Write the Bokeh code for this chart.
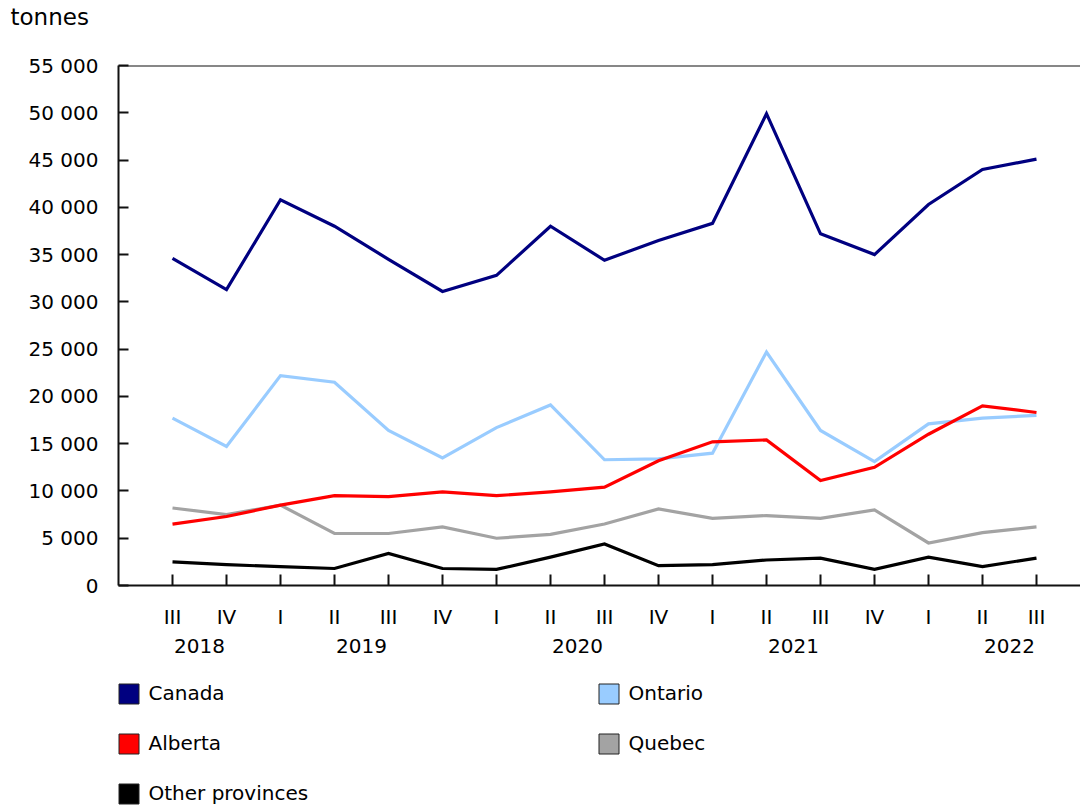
from bokeh.plotting import figure
from bokeh.models import (Range1d, FixedTicker, LinearAxis, Span, Legend, LegendItem)
from bokeh.layouts import column
from bokeh.embed import file_html
from bokeh.resources import INLINE

# ---------------- data ----------------
quarters = ["III", "IV", "I", "II", "III", "IV", "I", "II", "III", "IV",
            "I", "II", "III", "IV", "I", "II", "III"]
years = ["2018", "2019", "2020", "2021", "2022"]
canada = [34600, 31300, 40800, 38000, 34500, 31100, 32800, 38000, 34400, 36500,
          38300, 49900, 37200, 35000, 40300, 44000, 45100]
ontario = [17700, 14700, 22200, 21500, 16400, 13500, 16700, 19100, 13300, 13400,
           14000, 24700, 16400, 13100, 17100, 17700, 18000]
alberta = [6500, 7300, 8500, 9500, 9400, 9900, 9500, 9900, 10400, 13200,
           15200, 15400, 11100, 12500, 16000, 19000, 18300]
quebec = [8200, 7500, 8500, 5500, 5500, 6200, 5000, 5400, 6500, 8100,
          7100, 7400, 7100, 8000, 4500, 5600, 6200]
other = [2500, 2200, 2000, 1800, 3400, 1800, 1700, 3000, 4400, 2100,
         2200, 2700, 2900, 1700, 3000, 2000, 2900]
series_names = ["Canada", "Ontario", "Alberta", "Quebec", "Other provinces"]
series_values = [canada, ontario, alberta, quebec, other]
series_colors = ["#000080", "#99CCFF", "#FF0000", "#A3A3A3", "#000000"]
y_ticks = [0, 5000, 10000, 15000, 20000, 25000, 30000, 35000, 40000, 45000, 50000, 55000]
y_tick_labels = ["0", "5 000", "10 000", "15 000", "20 000", "25 000", "30 000",
                 "35 000", "40 000", "45 000", "50 000", "55 000"]
unit_label = "tonnes"

# ---------------- layout ----------------
FONT = "DejaVu Sans"
FS = "20px"
W = 1080
H_MAIN, H_LEG = 664, 142
x_pos = list(range(1, len(quarters) + 1))
year_pos = [1.5, 4.5, 8.5, 12.5, 16.5]

p = figure(width=W, height=H_MAIN, output_backend="svg", toolbar_location=None,
           x_range=Range1d(0, 17.815), y_range=Range1d(0, 55000),
           min_border_left=118, min_border_right=0, min_border_top=65,
           min_border_bottom=79, x_axis_type=None, y_axis_type=None)
p.grid.visible = False
p.outline_line_color = None
p.background_fill_color = "white"
p.border_fill_color = "white"

# unit label as title, with trailing empty lines to lift it to the top edge
p.title.text = unit_label + "\n\n"
p.title.text_font = FONT
p.title.text_font_size = "23px"
p.title.text_font_style = "normal"
p.title.text_color = "#000000"
p.title.text_line_height = 0.65
p.title.align = "left"
p.title.offset = -108
p.title.standoff = 3

# y axis
yax = LinearAxis(ticker=FixedTicker(ticks=y_ticks),
                 major_label_overrides={t: l for t, l in zip(y_ticks, y_tick_labels)})
yax.major_tick_in = 10
yax.major_tick_out = 0
yax.minor_tick_line_color = None
yax.major_label_standoff = 20
yax.major_label_text_font = FONT
yax.major_label_text_font_size = FS
yax.major_label_text_color = "#000000"
yax.axis_line_color = "#111111"
yax.axis_line_width = 2
yax.major_tick_line_color = "#111111"
yax.major_tick_line_width = 2
p.add_layout(yax, "left")

# x axis - quarters
xax = LinearAxis(ticker=FixedTicker(ticks=x_pos),
                 major_label_overrides={i: q for i, q in zip(x_pos, quarters)})
xax.major_tick_in = 11
xax.major_tick_out = 0
xax.minor_tick_line_color = None
xax.major_label_standoff = 19
xax.major_label_text_font = FONT
xax.major_label_text_font_size = FS
xax.major_label_text_color = "#000000"
xax.axis_line_color = "#111111"
xax.axis_line_width = 2
xax.major_tick_line_color = "#111111"
xax.major_tick_line_width = 2
p.add_layout(xax, "below")

# x axis - years
yrax = LinearAxis(ticker=FixedTicker(ticks=year_pos),
                  major_label_overrides={pos: y for pos, y in zip(year_pos, years)})
yrax.axis_line_color = None
yrax.major_tick_line_color = None
yrax.minor_tick_line_color = None
yrax.major_tick_in = 0
yrax.major_tick_out = 0
yrax.major_label_standoff = 7
yrax.major_label_text_font = FONT
yrax.major_label_text_font_size = FS
yrax.major_label_text_color = "#000000"
p.add_layout(yrax, "below")

# top border
p.add_layout(Span(location=55000, dimension="width", line_color="#111111", line_width=2))

# lines (Other, Quebec, Ontario, Alberta, Canada on top)
draw_order = [4, 3, 1, 2, 0]
for i in draw_order:
    p.line(x_pos, series_values[i], line_color=series_colors[i], line_width=3.2,
           line_join="miter")

# ---------------- legend (separate strip below) ----------------
lg = figure(width=W, height=H_LEG, output_backend="svg", toolbar_location=None,
            x_range=Range1d(0, 1), y_range=Range1d(0, 1),
            min_border_left=0, min_border_right=0, min_border_top=0,
            min_border_bottom=0, x_axis_type=None, y_axis_type=None)
lg.grid.visible = False
lg.outline_line_color = None
lg.background_fill_color = "white"
lg.border_fill_color = "white"

nan = float("nan")
items = []
for name, col in zip(series_names, series_colors):
    # swatch-only renderer (no visible mark of its own)
    r = lg.quad(left=[nan], right=[nan], top=[nan], bottom=[nan], fill_color=col,
                line_color="#222222", line_width=1)
    items.append(LegendItem(label=name, renderers=[r]))

legend = Legend(items=items, location=(-2.5, 0.5), orientation="horizontal",
                ncols=2, glyph_width=25, glyph_height=25, label_height=25,
                label_width=422, label_standoff=8, spacing=25, padding=0, margin=0,
                border_line_color=None, background_fill_alpha=0,
                label_text_font=FONT, label_text_font_size=FS,
                label_text_color="#000000")
lg.add_layout(legend, "center")

layout = column(p, lg, spacing=0)
open("out.html", "w").write(file_html(layout, INLINE))
